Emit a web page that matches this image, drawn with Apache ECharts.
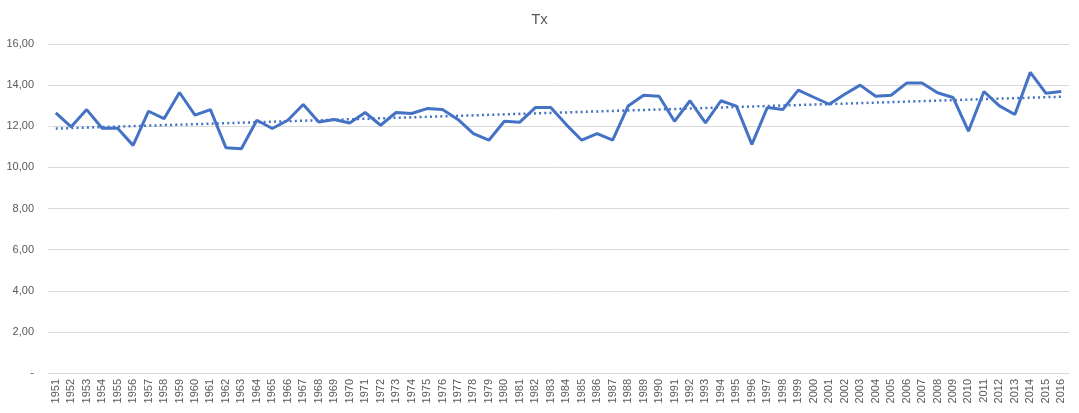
<!DOCTYPE html>
<html><head><meta charset="utf-8">
<script src="https://cdn.jsdelivr.net/npm/echarts@6/dist/echarts.min.js"></script>
<style>html,body{margin:0;padding:0;background:#fff}#c{width:1079px;height:413px}</style>
</head><body><div id="c"></div>
<script>
const years = [];
for (let y = 1951; y <= 2016; y++) years.push(String(y));
const txValues = [
  12.65, 11.97, 12.81, 11.90, 11.90, 11.07, 12.73, 12.37, 13.64, 12.54,
  12.81, 10.96, 10.91, 12.29, 11.89, 12.29, 13.06, 12.21, 12.33, 12.16,
  12.67, 12.05, 12.67, 12.62, 12.86, 12.81, 12.33, 11.64, 11.32, 12.24,
  12.20, 12.91, 12.91, 12.08, 11.32, 11.64, 11.32, 12.98, 13.51, 13.46,
  12.24, 13.24, 12.16, 13.24, 12.98, 11.12, 12.91, 12.81, 13.76, 13.41,
  13.07, 13.56, 14.00, 13.46, 13.51, 14.10, 14.10, 13.63, 13.40, 11.76,
  13.69, 12.99, 12.57, 14.62, 13.61, 13.69
];
const yTicks = [0, 2, 4, 6, 8, 10, 12, 14, 16];

// linear regression trendline (as in the spreadsheet)
const n = txValues.length;
let sx = 0, sy = 0, sxy = 0, sxx = 0;
txValues.forEach((v, i) => { sx += i; sy += v; sxy += i * v; sxx += i * i; });
const slope = (n * sxy - sx * sy) / (n * sxx - sx * sx);
const icpt = (sy - slope * sx) / n;
const trend = txValues.map((v, i) => +(icpt + slope * i).toFixed(4));

const chart = echarts.init(document.getElementById('c'), null, {renderer: 'canvas'});
chart.setOption({
  animation: false,
  title: {
    text: 'Tx', left: 'center', top: 7,
    textStyle: {fontFamily: 'Liberation Sans, Arial', fontSize: 15, fontWeight: 'normal', color: '#595959'}
  },
  grid: {left: 48, right: 10, top: 44, bottom: 40, containLabel: false},
  xAxis: {
    type: 'category', data: years, boundaryGap: true,
    axisLine: {show: true, lineStyle: {color: '#d9d9d9'}},
    axisTick: {show: false},
    axisLabel: {rotate: 90, interval: 0, fontSize: 11, color: '#595959', fontFamily: 'Liberation Sans, Arial', margin: 6}
  },
  yAxis: {
    type: 'value', min: 0, max: 16, interval: 2,
    axisLine: {show: false}, axisTick: {show: false},
    splitLine: {lineStyle: {color: '#d9d9d9', width: 1}},
    axisLabel: {
      fontSize: 11, color: '#595959', fontFamily: 'Liberation Sans, Arial', margin: 14,
      formatter: v => v === 0 ? '-' : v.toFixed(2).replace('.', ',')
    }
  },
  series: [
    {
      name: 'Tx', type: 'line', data: txValues, showSymbol: false, symbol: 'none',
      lineStyle: {color: '#4472C4', width: 3}, z: 3
    },
    {
      name: 'trend', type: 'line', data: trend, showSymbol: false, symbol: 'none',
      lineStyle: {color: '#4472C4', width: 2.5, type: [2, 3.2], cap: 'butt'}, z: 2
    }
  ]
});
</script></body></html>
